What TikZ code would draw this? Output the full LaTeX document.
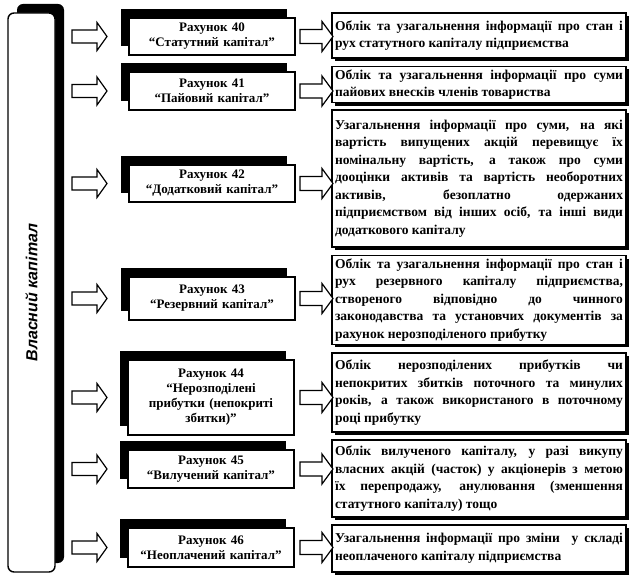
\documentclass[tikz,border=0pt]{standalone}
\usepackage{fontspec}
\setmainfont{Liberation Serif}
\newfontfamily\labelfont{Liberation Sans}
\usetikzlibrary{shadows}

\tikzset{
    vkbox/.style={draw, line width=1.4pt, rounded corners=6pt, fill=white,
        minimum width=47, minimum height=559,
        drop shadow={shadow xshift=9pt, shadow yshift=9pt, fill=black, opacity=1}},
    rahbox/.style={draw, line width=1.2pt, fill=white, text width=160, inner xsep=3,
        align=center, font=\fontsize{13}{15}\selectfont\bfseries,
        drop shadow={shadow xshift=-8pt, shadow yshift=9pt, fill=black, opacity=1}},
    opysbox/.style={draw, line width=1.2pt, fill=white, text width=288, inner sep=3,
        align=justify, font=\fontsize{13.5}{17.5}\selectfont\bfseries,
        drop shadow={shadow xshift=3pt, shadow yshift=-3pt, fill=black, opacity=1}},
    larrow/.pic={\draw[line width=1.2pt, fill=white] (0,-6.5) -- (25,-6.5) -- (25,-14)
        -- (35,0) -- (25,14) -- (25,6.5) -- (0,6.5) -- cycle;},
    rarrow/.pic={\draw[line width=1.2pt, fill=white] (0,-7) -- (22,-7) -- (22,-15)
        -- (33,0) -- (22,15) -- (22,7) -- (0,7) -- cycle;}
}

\begin{document}
\begin{tikzpicture}[x=1pt, y=-1pt]
    \useasboundingbox (0,0) rectangle (632,577);
    % Left box.
        \node[vkbox] (vk) at (31.5,292.5) {};
        \node[rotate=90, font=\labelfont\fontsize{16}{18}\selectfont\bfseries\itshape] (vklabel) at (vk.center) {Власний капітал};
    % Below nodes are the accounts.
        \node[rahbox, minimum height=37] (r40) at (212,36.5) {Рахунок 40\\“Статутний капітал”};
        \node[rahbox, minimum height=38] (r41) at (212,91) {Рахунок 41\\“Пайовий капітал”};
        \node[rahbox, minimum height=37] (r42) at (212,183.5) {Рахунок 42\\“Додатковий капітал”};
        \node[rahbox, minimum height=43] (r43) at (212,298.5) {Рахунок 43\\“Резервний капітал”};
        \node[rahbox, minimum height=75] (r44) at (211,397.5) {Рахунок 44\\“Нерозподілені\\прибутки (непокриті\\збитки)”};
        \node[rahbox, minimum height=38] (r45) at (211,469) {Рахунок 45\\“Вилучений капітал”};
        \node[rahbox, minimum height=39] (r46) at (211,547.5) {Рахунок 46\\“Неоплачений капітал”};
    % Below nodes are the descriptions.
        \node[opysbox, minimum height=45] (o40) at (479,35.5) {Облік та узагальнення інформації про стан і\linebreak рух статутного капіталу підприємства};
        \node[opysbox, minimum height=33] (o41) at (479,84.5) {Облік та узагальнення інформації про суми\linebreak пайових внесків членів товариства};
        \node[opysbox, minimum height=137] (o42) at (479,178.5) {Узагальнення інформації про суми, на які\linebreak вартість випущених акцій перевищує їх\linebreak номінальну вартість, а також про суми\linebreak дооцінки активів та вартість необоротних\linebreak активів, безоплатно одержаних\linebreak підприємством від інших осіб, та інші види\linebreak додаткового капіталу};
        \node[opysbox, minimum height=86] (o43) at (479,300) {Облік та узагальнення інформації про стан і\linebreak рух резервного капіталу підприємства,\linebreak створеного відповідно до чинного\linebreak законодавства та установчих документів за\linebreak рахунок нерозподіленого прибутку};
        \node[opysbox, minimum height=79] (o44) at (479,392.5) {Облік нерозподілених прибутків чи\linebreak непокритих збитків поточного та минулих\linebreak років, а також використаного в поточному\linebreak році прибутку};
        \node[opysbox, minimum height=77] (o45) at (479,478.5) {Облік вилученого капіталу, у разі викупу\linebreak власних акцій (часток) у акціонерів з метою\linebreak їх перепродажу, анулювання (зменшення\linebreak статутного капіталу) тощо};
        \node[opysbox, minimum height=47] (o46) at (479,548.5) {Узагальнення інформації про зміни~ у складі\linebreak неоплаченого капіталу підприємства};
    % The arrows.
        \pic at (72,36.5) {larrow};
        \pic at (72,91) {larrow};
        \pic at (72,183.5) {larrow};
        \pic at (72,298.5) {larrow};
        \pic at (72,397.5) {larrow};
        \pic at (72,469) {larrow};
        \pic at (72,547.5) {larrow};
        \pic at (300,36.5) {rarrow};
        \pic at (300,91) {rarrow};
        \pic at (300,183.5) {rarrow};
        \pic at (300,298.5) {rarrow};
        \pic at (300,397.5) {rarrow};
        \pic at (300,469) {rarrow};
        \pic at (300,547.5) {rarrow};
\end{tikzpicture}
\end{document}
